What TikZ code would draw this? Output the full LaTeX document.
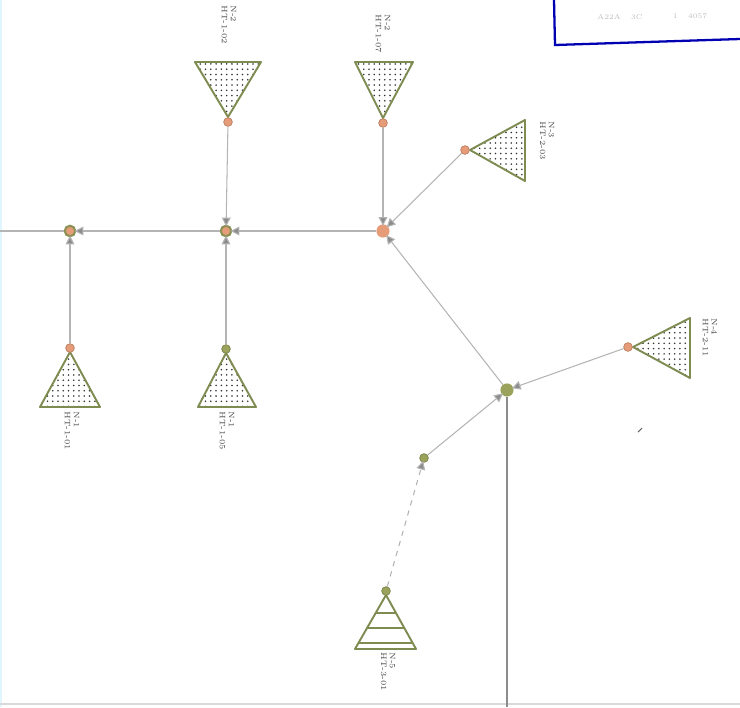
\documentclass[tikz,border=0pt]{standalone}
\usetikzlibrary{arrows.meta, patterns}
\definecolor{trigreen}{HTML}{7E8C52}
\definecolor{dotorange}{HTML}{E69C78}
\definecolor{dotgreen}{HTML}{9AA25C}
\definecolor{linegray}{HTML}{B4B4B4}
\tikzset{
  tri/.style  = {draw=trigreen, line width=1.1pt, line join=round,
                 pattern=dots, pattern color=black!80},
  stri/.style = {draw=trigreen, line width=1.1pt, line join=round, fill=white},
  odot/.style = {circle, fill=dotorange, draw=dotorange!80!black,
                 minimum size=9pt*0.55, inner sep=0pt},
  gdot/.style = {circle, fill=dotgreen, draw=dotgreen!80!black,
                 minimum size=9pt*0.55, inner sep=0pt},
  jn/.style   = {circle, fill=dotorange, draw=dotgreen!90!black, line width=1.2pt,
                 minimum size=6pt, inner sep=0pt},
  bigo/.style = {circle, fill=dotorange, minimum size=7.5pt, inner sep=0pt},
  bigg/.style = {circle, fill=dotgreen, minimum size=7.5pt, inner sep=0pt},
  lnk/.style  = {linegray, line width=0.6pt,
                 -{Triangle[length=5pt,width=5pt,fill=black!45]}, shorten >=-1pt},
  ln/.style   = {linegray, line width=0.6pt},
  lbl/.style  = {rotate=-90, anchor=west, align=left, text=black!70,
                 font=\fontsize{4.5}{5}\selectfont, inner sep=0pt}
}

\begin{document}
\begin{tikzpicture}[x=0.02cm, y=-0.02cm]
  \useasboundingbox (0,0) rectangle (740,707);
  %% Sheet edges
  \draw[cyan!12, line width=0.8pt] (1,0) -- (1,707);
  \draw[black!15, line width=0.8pt] (0,704) -- (740,704);

  %% Title box (top right)
  \draw[blue!70!black, line width=1.3pt] (554,0) -- (555,45) -- (740,39);
  \node[text=black!25, font=\fontsize{4}{5}\selectfont] (boxa) at (620,17) {A22A \quad 3C};
  \node[text=black!25, font=\fontsize{4}{5}\selectfont] (boxb) at (690,16) {1 \quad 4057};

  %% Junctions
  \node[jn]   (A) at (70,231)  {};
  \node[jn]   (B) at (226,231) {};
  \node[bigo] (C) at (383,231) {};
  \node[bigg] (D) at (507,390) {};
  \node[gdot] (E) at (424,458) {};
  \coordinate (W) at (0,231);
  \coordinate (S) at (507,707);

  %% Inverted triangles (top)
  \draw[tri] (195,62) -- (261,62) -- (228,117) -- cycle;
  \draw[tri] (355,62) -- (413,62) -- (383,118) -- cycle;
  \node[odot] (T1) at (228,122) {};
  \node[odot] (T2) at (383,123) {};

  %% Triangles pointing left
  \draw[tri] (470,150) -- (525,120) -- (525,181) -- cycle;
  \draw[tri] (633,347) -- (690,318) -- (690,378) -- cycle;
  \node[odot] (R1) at (465,150) {};
  \node[odot] (R2) at (628,347) {};

  %% Upright triangles (bottom)
  \draw[tri] (70,352) -- (100,407) -- (40,407) -- cycle;
  \draw[tri] (226,353) -- (256,407) -- (198,407) -- cycle;
  \node[odot] (U1) at (70,348) {};
  \node[gdot] (U2) at (226,349) {};

  %% Striped triangle
  \draw[stri] (386,595) -- (416,649) -- (355,649) -- cycle;
  \foreach \yy/\hw in {613/10.2, 628/18.6, 643/27.1}
    \draw[trigreen, line width=1.1pt] (386-\hw,\yy) -- (386+\hw,\yy);
  \node[gdot] (P1) at (386,591) {};

  %% Connectors
  \draw[lnk] (B) -- (A);
  \draw[lnk] (C) -- (B);
  \draw[ln]  (A) -- (W);
  \draw[lnk] (U1) -- (A);
  \draw[lnk] (T1) -- (B);
  \draw[lnk] (U2) -- (B);
  \draw[lnk] (T2) -- (C);
  \draw[lnk] (R1) -- (C);
  \draw[lnk] (D) -- (C);
  \draw[lnk] (R2) -- (D);
  \draw[lnk] (E) -- (D);
  \draw[lnk, dashed] (P1) -- (E);
  \draw[black!45, line width=0.9pt] (D) -- (S);

  %% Labels
  \node[lbl] (L1) at (229,5)   {N-2\\HT-1-02};
  \node[lbl] (L2) at (383,14)  {N-2\\HT-1-07};
  \node[lbl] (L3) at (547,121) {N-3\\HT-2-03};
  \node[lbl] (L4) at (710,318) {N-4\\HT-2-11};
  \node[lbl] (L5) at (72,411)  {N-1\\HT-1-01};
  \node[lbl] (L6) at (227,411) {N-1\\HT-1-05};
  \node[lbl] (L7) at (388,652) {N-5\\HT-3-01};

  %% Small mark
  \draw[black!60, line width=0.6pt] (638,432) -- (642,428);
\end{tikzpicture}
\end{document}
